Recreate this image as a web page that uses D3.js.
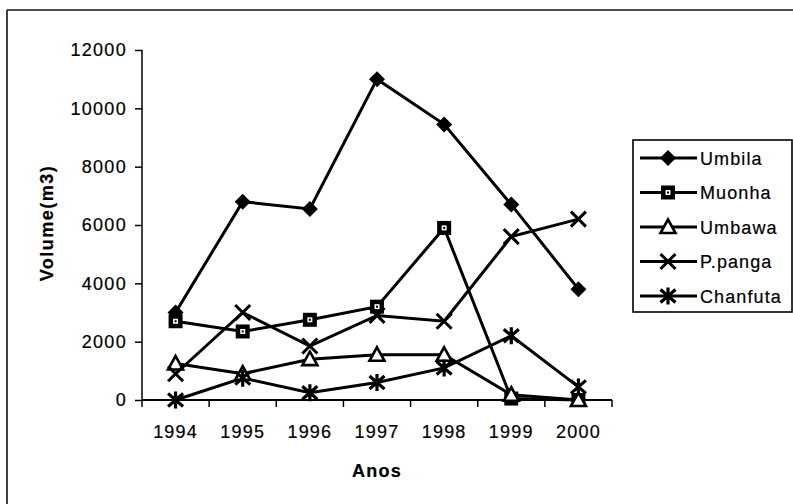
<!DOCTYPE html>
<html><head><meta charset="utf-8">
<script src="https://cdn.jsdelivr.net/npm/d3@7"></script>
<style>body{margin:0;background:#fff}svg{display:block}text{font-family:"Liberation Sans",Arial,sans-serif;fill:#000;stroke:#000;stroke-width:0.2px}</style>
</head><body><svg id="c" width="793" height="504"></svg>
<script>
const years = ["1994","1995","1996","1997","1998","1999","2000"];
const seriesNames = ["Umbila","Muonha","Umbawa","P.panga","Chanfuta"];
const umbila   = [3000, 6800, 6550, 11000, 9450, 6700, 3800];
const muonha   = [2700, 2350, 2750, 3200, 5900, 50, 0];
const umbawa   = [1250, 900, 1400, 1550, 1550, 180, 0];
const ppanga   = [900, 3000, 1850, 2900, 2700, 5600, 6200];
const chanfuta = [0, 750, 250, 600, 1100, 2200, 450];
const yTicks = [0, 2000, 4000, 6000, 8000, 10000, 12000];
const seriesValues = [umbila, muonha, umbawa, ppanga, chanfuta];
const markerTypes = ["diamond","square","triangle","x","asterisk"];

const svg = d3.select("#c");
// outer frame (top + left)
svg.append("line").attr("x1",7).attr("y1",10).attr("x2",793).attr("y2",10).attr("stroke","#111").attr("stroke-width",1.6);
svg.append("line").attr("x1",7).attr("y1",10).attr("x2",7).attr("y2",504).attr("stroke","#111").attr("stroke-width",1.6);

const L = 142, R = 612, T = 50, B = 400;
const x = d3.scaleBand().domain(years).range([L, R]).padding(0);
const y = d3.scaleLinear().domain([0, 12000]).range([B, T]);
const cx = d => x(d) + x.bandwidth()/2;

// Y axis
const yAx = svg.append("g").attr("transform",`translate(${L},0)`)
  .call(d3.axisLeft(y).tickValues(yTicks).tickSize(7).tickPadding(8).tickFormat(d3.format("d")));
yAx.select(".domain").attr("stroke","#000").attr("stroke-width",1.5).attr("d",`M0,${T}V${B}`);
yAx.selectAll(".tick line").attr("stroke","#000").attr("stroke-width",1.5);
yAx.selectAll(".tick text").attr("font-size",18).attr("letter-spacing","1.3px").attr("fill","#000").style("font-family","Liberation Sans, Arial, sans-serif");

// X axis with ticks at band boundaries
const xAx = svg.append("g").attr("transform",`translate(0,${B})`);
xAx.append("line").attr("x1",L).attr("x2",R).attr("y1",0).attr("y2",0).attr("stroke","#000").attr("stroke-width",1.8);
const bounds = years.map(d => x(d)).concat([R]);
xAx.selectAll("line.tk").data(bounds).join("line").attr("class","tk")
  .attr("x1",d=>d).attr("x2",d=>d).attr("y1",0).attr("y2",7).attr("stroke","#000").attr("stroke-width",1.5);
xAx.selectAll("text").data(years).join("text")
  .attr("x", d => cx(d)).attr("y", 38).attr("text-anchor","middle")
  .attr("font-size",18).attr("letter-spacing","1.2px").text(d=>d);

// axis titles
svg.append("text").attr("transform","translate(53,223) rotate(-90)").attr("text-anchor","middle")
  .attr("font-size",18).attr("font-weight","bold").attr("letter-spacing","1.5px").text("Volume(m3)");
svg.append("text").attr("x",377).attr("y",477).attr("text-anchor","middle")
  .attr("font-size",18).attr("font-weight","bold").attr("letter-spacing","1.3px").text("Anos");

function drawMarker(g, type){
  if(type==="diamond"){
    g.append("path").attr("d","M0,-8L8,0L0,8L-8,0Z").attr("fill","#000");
  } else if(type==="square"){
    g.append("rect").attr("x",-7).attr("y",-7).attr("width",14).attr("height",14).attr("fill","#000");
    g.append("rect").attr("x",-2.5).attr("y",-2.5).attr("width",5).attr("height",5).attr("fill","#fff");
    g.append("rect").attr("x",-1).attr("y",-1).attr("width",2).attr("height",2).attr("fill","#000");
  } else if(type==="triangle"){
    g.append("path").attr("d","M0,-7.5L7.5,6L-7.5,6Z").attr("fill","#fff").attr("stroke","#000").attr("stroke-width",2.6);
  } else if(type==="x"){
    g.append("path").attr("d","M-7.5,-7.5L7.5,7.5M-7.5,7.5L7.5,-7.5").attr("stroke","#000").attr("stroke-width",3).attr("fill","none");
  } else if(type==="asterisk"){
    g.append("path").attr("d","M-7.5,-6.5L7.5,6.5M-7.5,6.5L7.5,-6.5M0,-8.5V8.5").attr("stroke","#000").attr("stroke-width",3.2).attr("fill","none");
  }
}

const line = d3.line().x((d,i)=>cx(years[i])).y(d=>y(d));
const plot = svg.append("g");
seriesValues.forEach((vals, si) => {
  plot.append("path").attr("d", line(vals)).attr("fill","none").attr("stroke","#000").attr("stroke-width",3);
});
seriesValues.forEach((vals, si) => {
  vals.forEach((v,i) => {
    const g = plot.append("g").attr("transform",`translate(${cx(years[i])},${y(v)})`);
    drawMarker(g, markerTypes[si]);
  });
});

// legend
const lg = svg.append("g");
lg.append("rect").attr("x",633).attr("y",140).attr("width",159).attr("height",172)
  .attr("fill","#fff").attr("stroke","#000").attr("stroke-width",1.6);
const ly = d3.scalePoint().domain(seriesNames).range([158, 296]);
seriesNames.forEach((n, si) => {
  const yy = ly(n);
  lg.append("line").attr("x1",640).attr("x2",697).attr("y1",yy).attr("y2",yy).attr("stroke","#000").attr("stroke-width",3);
  drawMarker(lg.append("g").attr("transform",`translate(668,${yy})`), markerTypes[si]);
  lg.append("text").attr("x",700).attr("y",yy+6.5).attr("font-size",18).attr("letter-spacing","1.1px").text(n);
});
</script></body></html>
